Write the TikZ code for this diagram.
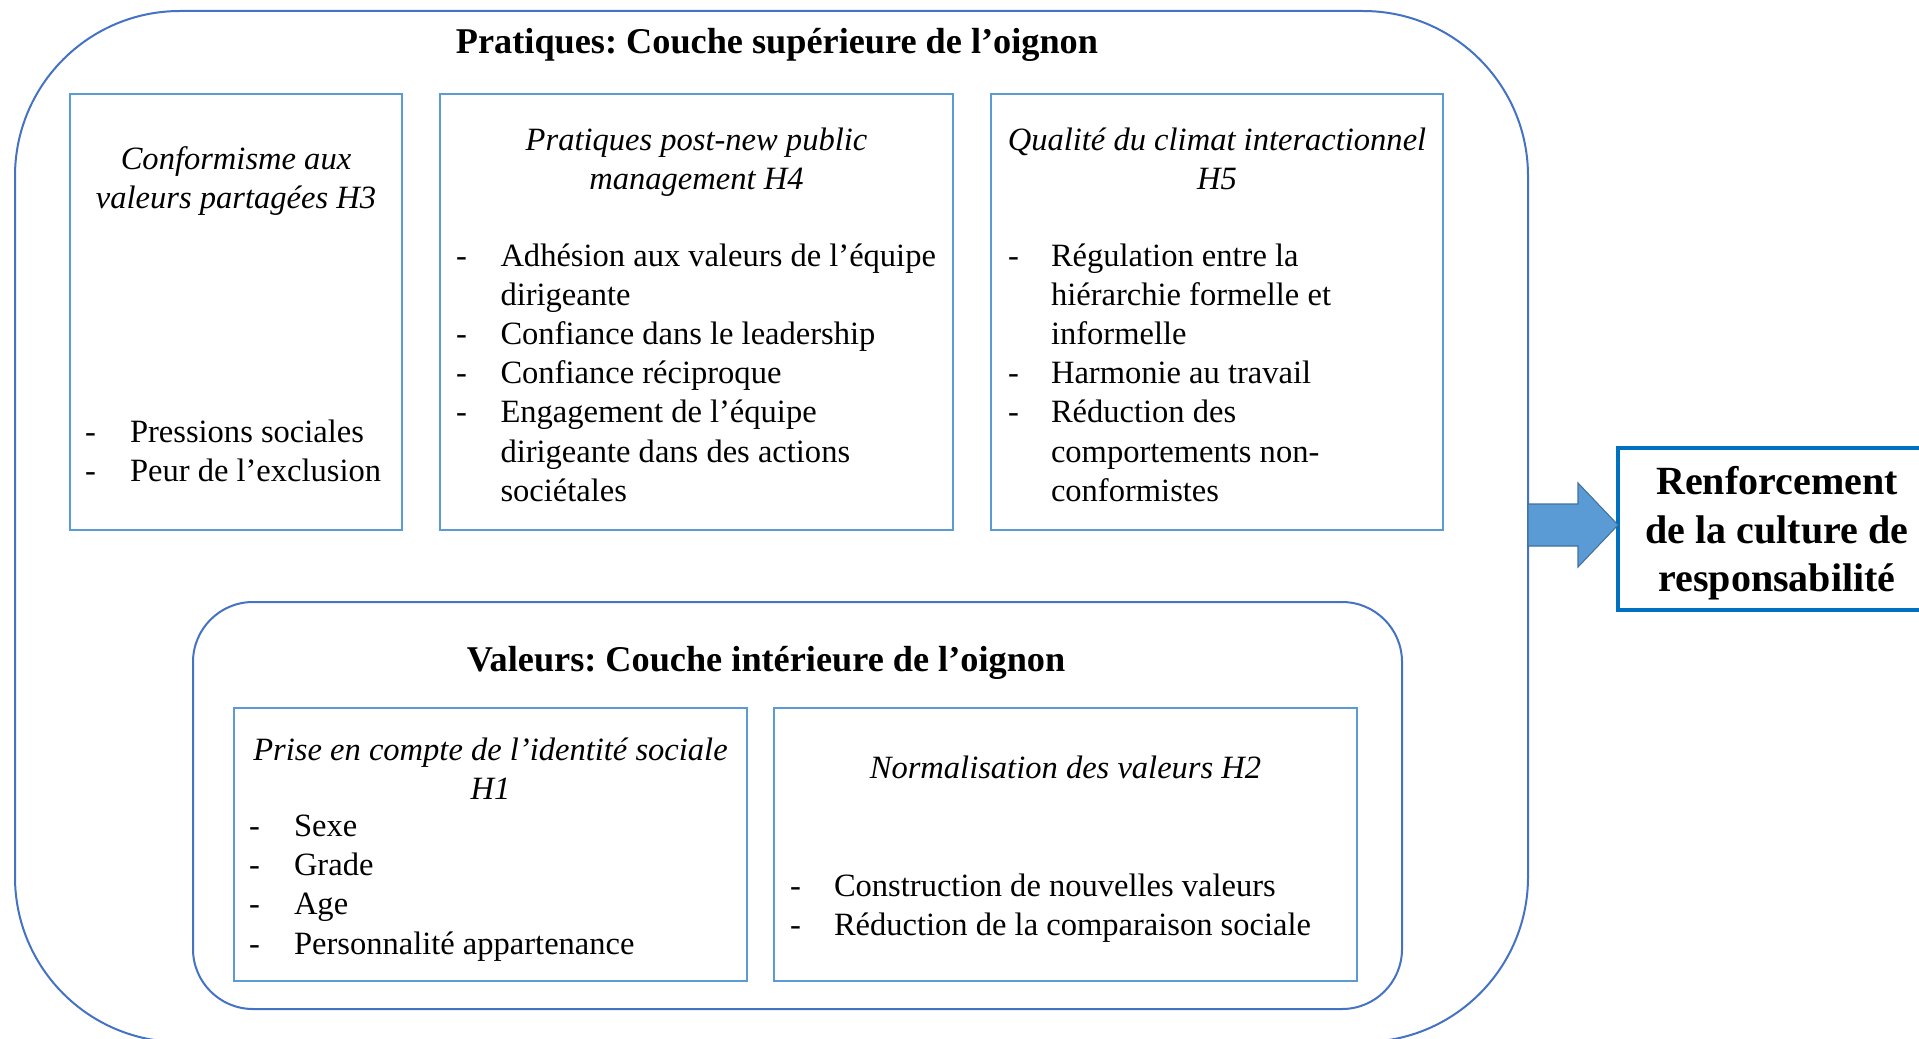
\documentclass[tikz,border=0pt]{standalone}
\usepackage{fontspec}
\setmainfont{Liberation Serif}
\frenchspacing
\definecolor{outerblue}{HTML}{4472C4}
\definecolor{boxblue}{HTML}{5B9BD5}
\definecolor{arrowedge}{HTML}{41719C}
\definecolor{resblue}{HTML}{0070C0}
\newcommand\bodyfont{\fontsize{24.4pt}{29.3pt}\selectfont}
\newcommand\headfont{\fontsize{27.2pt}{32pt}\selectfont\bfseries}
\newcommand\resfont{\fontsize{30pt}{35pt}\selectfont\bfseries}
% item: name, dash x, text x, baseline y, text
\newcommand\listitem[5]{%
  \node[txt,anchor=base west] (#1d) at (#2,#4) {-};
  \node[txt,anchor=base west] (#1) at (#3,#4) {#5};}
\begin{document}
\begin{tikzpicture}[x=0.75pt,y=-0.75pt,
  onion/.style={draw=outerblue, line width=1.5pt, rounded corners=#1, inner sep=0pt, outer sep=0pt},
  catbox/.style={draw=boxblue, line width=1.3pt, inner sep=0pt, outer sep=0pt},
  txt/.style={inner sep=0pt, outer sep=0pt, font=\bodyfont},
  ttl/.style={inner sep=0pt, outer sep=0pt, font=\bodyfont\itshape, anchor=base},
  head/.style={inner sep=0pt, outer sep=0pt, font=\headfont, anchor=base},
  restxt/.style={inner sep=0pt, outer sep=0pt, font=\resfont, anchor=base},
  resbox/.style={draw=resblue, line width=3pt, inner sep=0pt, outer sep=0pt},
  blockarrow/.style={fill=boxblue, draw=arrowedge, line width=0.8pt}]
\useasboundingbox (0,0) rectangle (1919,1038);

% layers
\node[onion=123.75pt, minimum width=1134.75pt, minimum height=773.25pt] (outer) at (771.5,526.5) {};
\node[onion=45pt, minimum width=906.75pt, minimum height=305.25pt] (inner) at (797.5,805.5) {};

% titles of layers
\node[head] (ptitle) at (777,54) {Pratiques: Couche supérieure de l’oignon};
\node[head] (vtitle) at (766,671) {Valeurs: Couche intérieure de l’oignon};

% boxes of the outer layer
\node[catbox, minimum width=249pt, minimum height=327pt] (b1) at (236,312) {};
\node[catbox, minimum width=384.75pt, minimum height=327pt] (b2) at (696.5,312) {};
\node[catbox, minimum width=339pt, minimum height=327pt] (b3) at (1217,312) {};

% boxes of the inner layer
\node[catbox, minimum width=384.75pt, minimum height=204.75pt] (b4) at (490.5,844.5) {};
\node[catbox, minimum width=437.25pt, minimum height=204.75pt] (b5) at (1065.5,844.5) {};

% box 1
\node[ttl] (b1t1) at (236,170) {Conformisme aux};
\node[ttl] (b1t2) at (236,209) {valeurs partagées H3};
\listitem{b1i1}{85}{130}{442}{Pressions sociales}
\listitem{b1i2}{85}{130}{481}{Peur de l’exclusion}

% box 2
\node[ttl] (b2t1) at (696.5,151) {Pratiques post-new public};
\node[ttl] (b2t2) at (696.5,190) {management H4};
\listitem{b2i1}{456}{500.5}{266}{Adhésion aux valeurs de l’équipe}
\node[txt,anchor=base west] (b2i1b) at (500.5,305) {dirigeante};
\listitem{b2i2}{456}{500.5}{344}{Confiance dans le leadership}
\listitem{b2i3}{456}{500.5}{383}{Confiance réciproque}
\listitem{b2i4}{456}{500.5}{422}{Engagement de l’équipe}
\node[txt,anchor=base west] (b2i4b) at (500.5,462) {dirigeante dans des actions};
\node[txt,anchor=base west] (b2i4c) at (500.5,501) {sociétales};

% box 3
\node[ttl] (b3t1) at (1217,151) {Qualité du climat interactionnel};
\node[ttl] (b3t2) at (1217,190) {H5};
\listitem{b3i1}{1008}{1051}{266}{Régulation entre la}
\node[txt,anchor=base west] (b3i1b) at (1051,305) {hiérarchie formelle et};
\node[txt,anchor=base west] (b3i1c) at (1051,344) {informelle};
\listitem{b3i2}{1008}{1051}{383}{Harmonie au travail}
\listitem{b3i3}{1008}{1051}{422}{Réduction des}
\node[txt,anchor=base west] (b3i3b) at (1051,462) {comportements non-};
\node[txt,anchor=base west] (b3i3c) at (1051,501) {conformistes};

% box 4
\node[ttl] (b4t1) at (490.5,760) {Prise en compte de l’identité sociale};
\node[ttl] (b4t2) at (490.5,799) {H1};
\listitem{b4i1}{249}{294}{836}{Sexe}
\listitem{b4i2}{249}{294}{875}{Grade}
\listitem{b4i3}{249}{294}{914}{Age}
\listitem{b4i4}{249}{294}{954}{Personnalité appartenance}

% box 5
\node[ttl] (b5t1) at (1065.5,778) {Normalisation des valeurs H2};
\listitem{b5i1}{790}{834}{896}{Construction de nouvelles valeurs}
\listitem{b5i2}{790}{834}{935}{Réduction de la comparaison sociale}

% result box
\node[resbox, minimum width=241.5pt, minimum height=121.5pt] (res) at (1779,529) {};
\node[restxt] (r1) at (1777,494) {Renforcement};
\node[restxt] (r2) at (1777,543) {de la culture de};
\node[restxt] (r3) at (1777,591) {responsabilité};

% block arrow from the outer layer to the result
\coordinate (aS1) at (1528,504);
\coordinate (aS2) at (1528,546);
\coordinate (aTip) at (1618,525);
\draw[blockarrow] (aS1) -- (1578,504) -- (1578,483) -- (aTip) -- (1578,567) -- (1578,546) -- (aS2) -- cycle;
\end{tikzpicture}
\end{document}
